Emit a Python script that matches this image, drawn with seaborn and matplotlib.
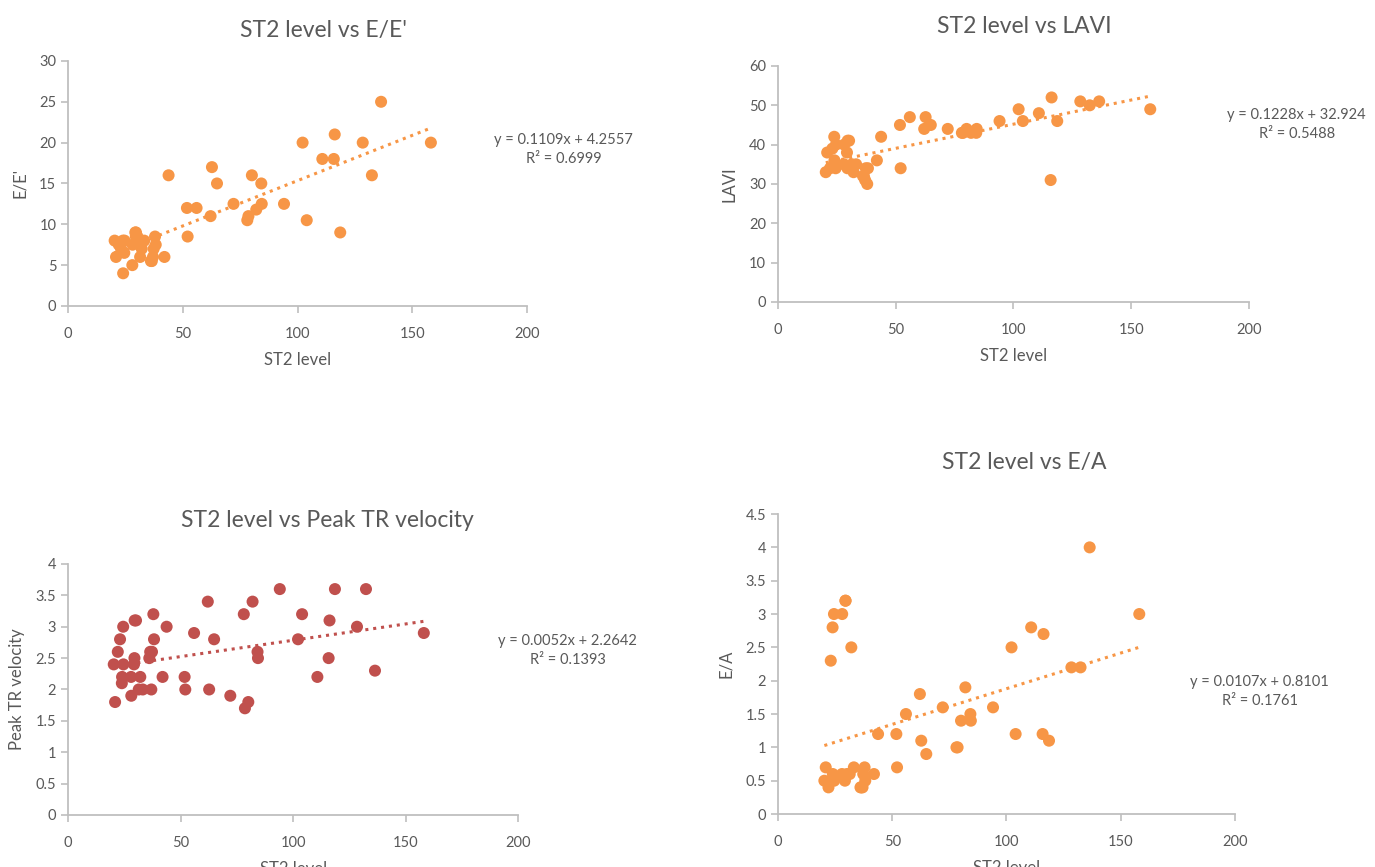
import numpy as np
import matplotlib
matplotlib.use("Agg")
import matplotlib.pyplot as plt
import seaborn as sns

# ST2 level per patient (shared x for all four panels)
st2 = [20.3, 20.9, 22.1, 23.1, 23.9, 24.0, 24.5, 24.6, 28.0, 28.1,
       29.3, 29.5, 29.6, 30.2, 31.4, 32.1, 33.2, 36.1, 36.5, 37.0,
       37.3, 37.9, 38.2, 42.0, 43.8, 51.8, 52.1, 56.0, 62.1, 62.7,
       64.9, 72.1, 78.1, 78.6, 80.1, 82.0, 84.2, 84.4, 94.1, 102.2,
       104.0, 110.8, 115.8, 116.2, 118.6, 128.4, 132.4, 136.4, 158.1]

e_e = [8, 6, 7.5, 7, 8, 4, 6.5, 8, 5, 7.5,
       9, 8.5, 9, 8.5, 6, 7, 8, 5.5, 5.5, 6,
       7, 8.5, 7.5, 6, 16, 12, 8.5, 12, 11, 17,
       15, 12.5, 10.5, 11, 16, 11.8, 15, 12.5, 12.5, 20,
       10.5, 18, 18, 21, 9, 20, 16, 25, 20]

lavi = [33, 38, 34, 39, 42, 36, 34, 40, 35, 40,
        38, 34, 41, 41, 35, 33, 35, 32, 32, 31,
        34, 30, 34, 36, 42, 45, 34, 47, 44, 47,
        45, 44, 43, 43, 44, 43, 43, 44, 46, 49,
        46, 48, 31, 52, 46, 51, 50, 51, 49]

tr_vel = [2.4, 1.8, 2.6, 2.8, 2.1, 2.2, 3.0, 2.4, 2.2, 1.9,
          2.4, 2.5, 3.1, 3.1, 2.0, 2.2, 2.0, 2.5, 2.6, 2.0,
          2.6, 3.2, 2.8, 2.2, 3.0, 2.2, 2.0, 2.9, 3.4, 2.0,
          2.8, 1.9, 3.2, 1.7, 1.8, 3.4, 2.6, 2.5, 3.6, 2.8,
          3.2, 2.2, 2.5, 3.1, 3.6, 3.0, 3.6, 2.3, 2.9]

e_a = [0.5, 0.7, 0.4, 2.3, 2.8, 0.6, 3.0, 0.5, 0.6, 3.0,
       0.5, 3.2, 3.2, 0.6, 0.6, 2.5, 0.7, 0.4, 0.4, 0.4,
       0.6, 0.7, 0.5, 0.6, 1.2, 1.2, 0.7, 1.5, 1.8, 1.1,
       0.9, 1.6, 1.0, 1.0, 1.4, 1.9, 1.5, 1.4, 1.6, 2.5,
       1.2, 2.8, 1.2, 2.7, 1.1, 2.2, 2.2, 4.0, 3.0]

titles = ["ST2 level vs E/E'", "ST2 level vs LAVI",
          "ST2 level vs Peak TR velocity", "ST2 level vs E/A"]
ylabels = ["E/E'", "LAVI", "Peak TR velocity", "E/A"]
slopes = [0.1109, 0.1228, 0.0052, 0.0107]
intercepts = [4.2557, 32.924, 2.2642, 0.8101]
r2 = [0.6999, 0.5488, 0.1393, 0.1761]
ylims = [(0, 30), (0, 60), (0, 4), (0, 4.5)]
ysteps = [5, 10, 0.5, 0.5]
series = [e_e, lavi, tr_vel, e_a]

orange = "#F79646"
red = "#C0504D"
colors = [orange, orange, red, orange]
text_c = "#595959"
axis_c = "#BFBFBF"

sns.set_style("white")
plt.rcParams["font.family"] = ["Lato", "DejaVu Sans"]

fig = plt.figure(figsize=(13.75, 8.67), dpi=100)
# axes boxes in figure fraction (left, bottom, width, height)
boxes = [[0.0495, 0.6471, 0.3338, 0.2826],
         [0.5658, 0.6517, 0.3425, 0.2722],
         [0.0495, 0.0600, 0.3273, 0.2895],
         [0.5658, 0.0611, 0.3324, 0.3460]]
# equation label positions and title positions (figure fraction)
eq_pos = [(0.410, 0.828), (0.943, 0.856), (0.413, 0.250), (0.916, 0.202)]
title_pos = [(0.235, 0.965), (0.745, 0.969), (0.238, 0.400), (0.745, 0.467)]

for i in range(4):
    ax = fig.add_axes(boxes[i])
    sns.scatterplot(x=st2, y=series[i], ax=ax, color=colors[i], s=75,
                    edgecolor="none", zorder=3)
    xs = np.array([min(st2), max(st2)])
    ax.plot(xs, intercepts[i] + slopes[i] * xs, linestyle=(0, (1, 1.6)),
            color=colors[i], linewidth=2.2, zorder=2)

    ax.set_xlim(0, 200)
    ax.set_ylim(*ylims[i])
    ax.set_xticks(np.arange(0, 201, 50))
    ax.set_yticks(np.arange(ylims[i][0], ylims[i][1] + 1e-9, ysteps[i]))
    ax.set_yticklabels([f"{v:g}" for v in ax.get_yticks()])
    sns.despine(ax=ax)
    for sp in ["left", "bottom"]:
        ax.spines[sp].set_color(axis_c)
        ax.spines[sp].set_linewidth(1.3)
    ax.tick_params(axis="both", colors=axis_c, labelcolor=text_c,
                   labelsize=10.5, length=5, width=1.2, direction="out",
                   bottom=True, left=True)
    ax.tick_params(axis="x", pad=10)
    ax.set_xlabel("ST2 level", color=text_c, fontsize=12, labelpad=8)
    ax.set_ylabel(ylabels[i], color=text_c, fontsize=12, labelpad=8)

    fig.text(title_pos[i][0], title_pos[i][1], titles[i], ha="center",
             va="center", color=text_c, fontsize=16.5)
    fig.text(eq_pos[i][0], eq_pos[i][1],
             f"y = {slopes[i]}x + {intercepts[i]}\nR² = {r2[i]}",
             ha="center", va="center", color=text_c, fontsize=10.5,
             linespacing=1.45)

fig.savefig("out.png", dpi=100)
